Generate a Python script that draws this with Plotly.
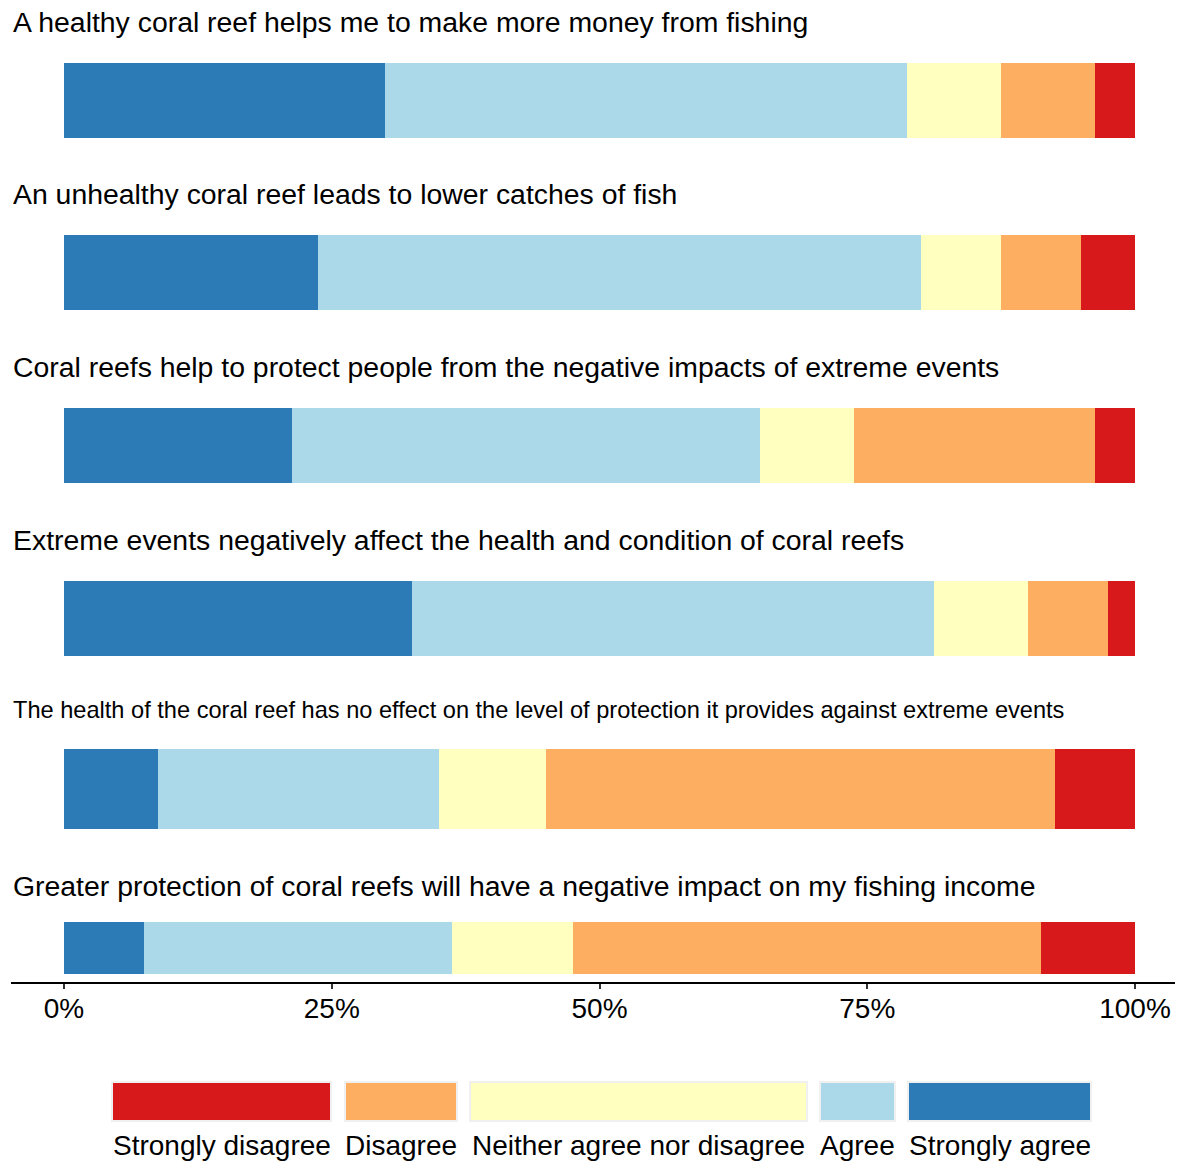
import plotly.graph_objects as go

# page body has an 8px margin: the figure is drawn from (8, 8) of the window
OFF = 8
WIN_W, WIN_H = 1183, 1161
W, H = WIN_W - OFF, WIN_H - OFF

questions = [
    "A healthy coral reef helps me to make more money from fishing",
    "An unhealthy coral reef leads to lower catches of fish",
    "Coral reefs help to protect people from the negative impacts of extreme events",
    "Extreme events negatively affect the health and condition of coral reefs",
    "The health of the coral reef has no effect on the level of protection it provides against extreme events",
    "Greater protection of coral reefs will have a negative impact on my fishing income",
]

levels = ["Strongly agree", "Agree", "Neither agree nor disagree", "Disagree", "Strongly disagree"]

# percentages of respondents
strongly_agree = [30.0, 23.75, 21.25, 32.5, 8.75, 7.5]
agree = [48.75, 56.25, 43.75, 48.75, 26.25, 28.75]
neither = [8.75, 7.5, 8.75, 8.75, 10.0, 11.25]
disagree = [8.75, 7.5, 22.5, 7.5, 47.5, 43.75]
strongly_disagree = [3.75, 5.0, 3.75, 2.5, 7.5, 8.75]

tick_vals = [0, 25, 50, 75, 100]
tick_text = ["0%", "25%", "50%", "75%", "100%"]

series = [strongly_agree, agree, neither, disagree, strongly_disagree]
colors = ["#2c7bb6", "#abd9e9", "#ffffbf", "#fdae61", "#d7191c"]

# layout (window pixel positions)
bar_px = [(63, 138), (235, 310), (408, 483), (581, 656), (749, 829), (922, 974)]
title_px = [22, 194, 367, 540, 710, 886]
title_size = [28.4, 28.4, 28.4, 28.4, 23.6, 28.4]
axis_px = 983
FONT = "Liberation Sans, Arial, Helvetica, sans-serif"


def py(p):
    return 1 - (p - OFF) / H


def px(p):
    return (p - OFF) / W


fig = go.Figure()
for i, q in enumerate(questions):
    yname = "y" if i == 0 else f"y{i+1}"
    for lvl, vals, col in zip(levels, series, colors):
        fig.add_trace(go.Bar(
            x=[vals[i]], y=[q], orientation="h", name=lvl,
            marker=dict(color=col, line=dict(width=0)),
            width=1, xaxis="x", yaxis=yname, showlegend=False,
            hovertemplate=lvl + ": %{x:.2f}%<extra></extra>",
        ))

layout = dict(
    width=W, height=H,
    margin=dict(l=0, r=0, t=0, b=0),
    barmode="stack",
    plot_bgcolor="white", paper_bgcolor="white",
    font=dict(family=FONT, color="black"),
    showlegend=False,
    xaxis=dict(
        domain=[px(11), 1], range=[-53 / 10.71, 100 + 48 / 10.71],
        anchor="free", position=py(axis_px),
        tickvals=tick_vals, ticktext=tick_text,
        showline=True, linecolor="black", linewidth=2,
        ticks="outside", ticklen=5, tickwidth=2, tickcolor="#333333",
        ticklabelstandoff=-5,
        tickfont=dict(size=28, color="black", family=FONT),
        showgrid=False, zeroline=False, automargin=False, fixedrange=True,
    ),
)
for i, q in enumerate(questions):
    key = "yaxis" if i == 0 else f"yaxis{i+1}"
    top, bot = bar_px[i]
    layout[key] = dict(
        domain=[py(bot), py(top)], anchor="x",
        showticklabels=False, showgrid=False, zeroline=False, showline=False,
        ticks="", automargin=False, fixedrange=True,
    )
fig.update_layout(**layout)

annotations = []
for i, q in enumerate(questions):
    annotations.append(dict(
        text=q, x=px(11), y=py(title_px[i]), xref="paper", yref="paper",
        xanchor="left", yanchor="middle", showarrow=False,
        font=dict(size=title_size[i], family=FONT, color="black"),
    ))

# legend (drawn as key boxes with labels beneath)
legend_order = ["Strongly disagree", "Disagree", "Neither agree nor disagree", "Agree", "Strongly agree"]
legend_colors = ["#d7191c", "#fdae61", "#ffffbf", "#abd9e9", "#2c7bb6"]
legend_px = [(112, 331), (345, 457), (470, 807), (820, 895), (908, 1091)]
shapes = []
for lab, col, (x0, x1) in zip(legend_order, legend_colors, legend_px):
    shapes.append(dict(
        type="rect", xref="paper", yref="paper",
        x0=px(x0), x1=px(x1), y0=py(1121), y1=py(1082),
        fillcolor=col, line=dict(color="#f0f0f0", width=2),
    ))
    annotations.append(dict(
        text=lab, x=px((x0 + x1) / 2), y=py(1145), xref="paper", yref="paper",
        xanchor="center", yanchor="middle", showarrow=False,
        font=dict(size=28, family=FONT, color="black"),
    ))

fig.update_layout(annotations=annotations, shapes=shapes)
fig.write_html("out.html")
